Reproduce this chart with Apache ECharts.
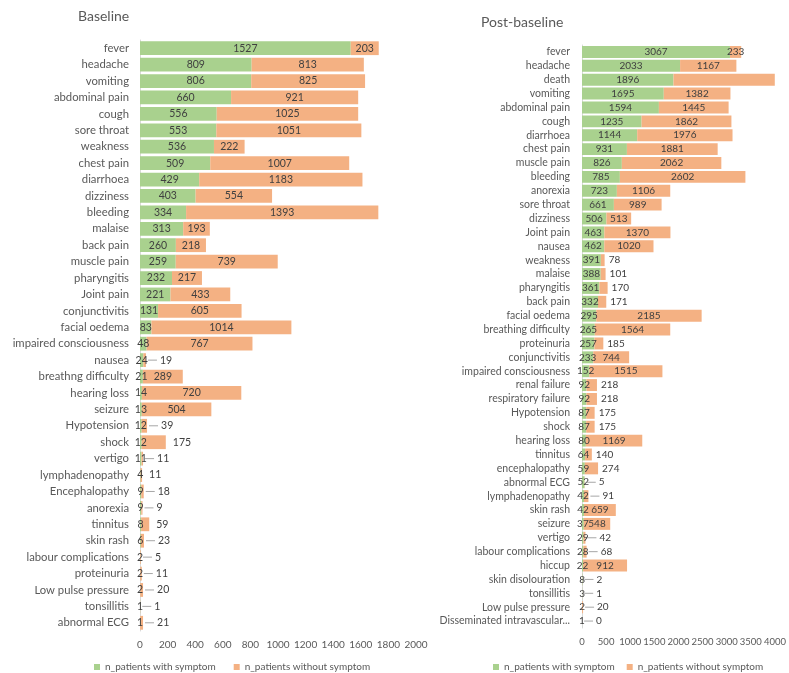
<!DOCTYPE html>
<html>
<head>
<meta charset="utf-8">
<script src="https://cdn.jsdelivr.net/npm/echarts@6/dist/echarts.min.js"></script>
<style>
html,body{margin:0;padding:0;background:#fff;}
#c{width:789px;height:673px;}
</style>
</head>
<body>
<div id="c"></div>
<script>
// ---- Baseline ----
const baseCategories = ["fever","headache","vomiting","abdominal pain","cough","sore throat","weakness","chest pain","diarrhoea","dizziness","bleeding","malaise","back pain","muscle pain","pharyngitis","Joint pain","conjunctivitis","facial oedema","impaired consciousness","nausea","breathng difficulty","hearing loss","seizure","Hypotension","shock","vertigo","lymphadenopathy","Encephalopathy","anorexia","tinnitus","skin rash","labour complications","proteinuria","Low pulse pressure","tonsillitis","abnormal ECG"];
const baseWith = [1527,809,806,660,556,553,536,509,429,403,334,313,260,259,232,221,131,83,48,24,21,14,13,12,12,11,4,9,9,8,6,2,2,2,1,1];
const baseWithout = [203,813,825,921,1025,1051,222,1007,1183,554,1393,193,218,739,217,433,605,1014,767,19,289,720,504,39,175,11,11,18,9,59,23,5,11,20,1,21];
const baseTicks = [0,200,400,600,800,1000,1200,1400,1600,1800,2000];

// ---- Post-baseline ----
const postCategories = ["fever","headache","death","vomiting","abdominal pain","cough","diarrhoea","chest pain","muscle pain","bleeding","anorexia","sore throat","dizziness","Joint pain","nausea","weakness","malaise","pharyngitis","back pain","facial oedema","breathing difficulty","proteinuria","conjunctivitis","impaired consciousness","renal failure","respiratory failure","Hypotension","shock","hearing loss","tinnitus","encephalopathy","abnormal ECG","lymphadenopathy","skin rash","seizure","vertigo","labour complications","hiccup","skin disolouration","tonsillitis","Low pulse pressure","Disseminated intravascular..."];
const postWith = [3067,2033,1896,1695,1594,1235,1144,931,826,785,723,661,506,463,462,391,388,361,332,295,265,257,233,152,92,92,87,87,80,64,59,52,42,42,37,29,28,22,8,3,2,1];
const postWithout = [233,1167,2100,1382,1445,1862,1976,1881,2062,2602,1106,989,513,1370,1020,78,101,170,171,2185,1564,185,744,1515,218,218,175,175,1169,140,274,5,91,659,548,42,68,912,2,1,20,0];
const postTicks = [0,500,1000,1500,2000,2500,3000,3500,4000];

const seriesNames = ["n_patients with symptom","n_patients without symptom"];
const GREEN = "#A9D18E", ORANGE = "#F4B183";
const FONT = "Lato";
const labelColor = "#404040";
const leaderColor = "#a6a6a6";

function withData(vals){
  return vals.map(v => ({value: v}));
}
// cfg: isOutside(v,g), hasLeader(v,g), outDist, hideIdx
function withoutData(vals, greens, cfg){
  return vals.map((v,i) => {
    const g = greens[i];
    const out = cfg.isOutside(v, g);
    const item = {value: v, label: {position: out ? "right" : "inside"}};
    if (out) {
      const lead = cfg.hasLeader(v, g);
      item.label.distance = lead ? 2 : cfg.outDist;
      item.label.formatter = lead ? "{l|}{v|{c}}" : "{v0|{c}}";
    }
    if (cfg.hideIdx === i) item.label.show = false;
    return item;
  });
}
function richFor(fs){
  return {
    l: {width: 9, height: 1, backgroundColor: leaderColor},
    v: {padding: [0,0,0,3], color: labelColor, fontFamily: FONT, fontSize: fs},
    v0: {color: labelColor, fontFamily: FONT, fontSize: fs}
  };
}

const chart = echarts.init(document.getElementById("c"), null, {renderer: "canvas"});
const option = {
  animation: false,
  textStyle: {fontFamily: FONT},
  title: [
    {text: "Baseline", left: 78, top: 9, padding: 0, textStyle: {fontFamily: FONT, fontSize: 14, fontWeight: "normal", color: "#595959"}},
    {text: "Post-baseline", left: 481, top: 15, padding: 0, textStyle: {fontFamily: FONT, fontSize: 14, fontWeight: "normal", color: "#595959"}}
  ],
  legend: [
    {data: seriesNames, left: 89, top: 657, itemWidth: 6, itemHeight: 6, itemGap: 18, icon: "rect",
     textStyle: {fontFamily: FONT, fontSize: 10, color: "#595959"}},
    {data: seriesNames, left: 488, top: 657, itemWidth: 6, itemHeight: 6, itemGap: 12, icon: "rect",
     textStyle: {fontFamily: FONT, fontSize: 10, color: "#595959"}}
  ],
  grid: [
    {left: 140, width: 276, top: 40, height: 591},
    {left: 582, width: 198, top: 45, height: 583}
  ],
  xAxis: [
    {gridIndex: 0, type: "value", min: baseTicks[0], max: baseTicks[baseTicks.length-1], interval: baseTicks[1]-baseTicks[0],
     axisLine: {show: false}, axisTick: {show: false}, splitLine: {show: false},
     axisLabel: {fontFamily: FONT, fontSize: 10, color: "#595959", margin: 9, showMaxLabel: true, formatter: v => String(v)}},
    {gridIndex: 1, type: "value", min: postTicks[0], max: postTicks[postTicks.length-1], interval: postTicks[1]-postTicks[0],
     axisLine: {show: false}, axisTick: {show: false}, splitLine: {show: false},
     axisLabel: {fontFamily: FONT, fontSize: 9.5, color: "#595959", margin: 9, showMaxLabel: true, hideOverlap: false, formatter: v => String(v)}}
  ],
  yAxis: [
    {gridIndex: 0, type: "category", data: baseCategories, inverse: true,
     axisLine: {show: true, lineStyle: {color: "#d9d9d9"}}, axisTick: {show: false},
     axisLabel: {fontFamily: FONT, fontSize: 11.3, color: "#595959", margin: 11, interval: 0}},
    {gridIndex: 1, type: "category", data: postCategories, inverse: true,
     axisLine: {show: true, lineStyle: {color: "#d9d9d9"}}, axisTick: {show: false},
     axisLabel: {fontFamily: FONT, fontSize: 10.5, color: "#595959", margin: 12, interval: 0}}
  ],
  series: [
    {name: seriesNames[0], type: "bar", stack: "b", xAxisIndex: 0, yAxisIndex: 0, barCategoryGap: "16%",
     itemStyle: {color: GREEN}, data: withData(baseWith),
     label: {show: true, position: "inside", color: labelColor, fontFamily: FONT, fontSize: 10.5}},
    {name: seriesNames[1], type: "bar", stack: "b", xAxisIndex: 0, yAxisIndex: 0, barCategoryGap: "16%",
     itemStyle: {color: ORANGE},
     data: withoutData(baseWithout, baseWith, {
       isOutside: (v, g) => v < 190,
       hasLeader: (v, g) => v + g < 60 && v + g !== 15,
       outDist: 7, hideIdx: -1}),
     label: {show: true, position: "inside", color: labelColor, fontFamily: FONT, fontSize: 10.5, rich: richFor(10.5)}},
    {name: seriesNames[0], type: "bar", stack: "p", xAxisIndex: 1, yAxisIndex: 1, barCategoryGap: "14%",
     itemStyle: {color: GREEN}, data: withData(postWith),
     label: {show: true, position: "inside", color: labelColor, fontFamily: FONT, fontSize: 10}},
    {name: seriesNames[1], type: "bar", stack: "p", xAxisIndex: 1, yAxisIndex: 1, barCategoryGap: "14%",
     itemStyle: {color: ORANGE},
     data: withoutData(postWithout, postWith, {
       isOutside: (v, g) => v < 300 && v + g < 600,
       hasLeader: (v, g) => v + g < 150,
       outDist: 4, hideIdx: 2}),
     label: {show: true, position: "inside", color: labelColor, fontFamily: FONT, fontSize: 10, rich: richFor(10)}}
  ]
};
chart.setOption(option);
</script>
</body>
</html>
